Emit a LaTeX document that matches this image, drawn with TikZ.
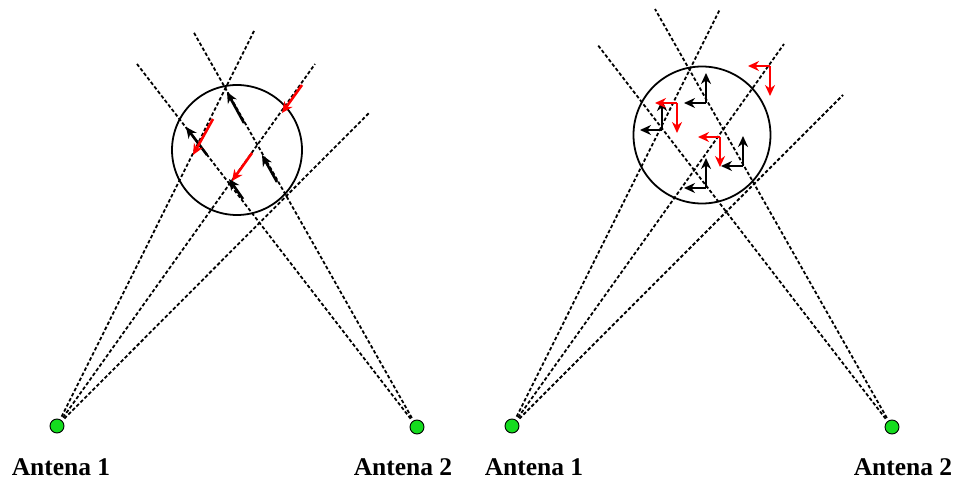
\documentclass[tikz,border=0pt]{standalone}
\usepackage{fontspec}
\setmainfont{Liberation Serif}
\usetikzlibrary{arrows.meta}
\definecolor{antgreen}{RGB}{20,220,30}

\tikzset{
  antenna/.style={circle, draw=black, fill=antgreen, line width=0.9pt, minimum size=14pt, inner sep=0pt},
  ray/.style={black, line width=1.8pt, dash pattern=on 3.5pt off 2.2pt, shorten <=3pt},
  zone/.style={black, line width=1.8pt},
  fwd/.style={black, line width=2.6pt, -{Stealth[length=11pt,width=10pt]}},
  back/.style={red, line width=2.6pt, -{Stealth[length=11pt,width=10pt]}},
  label/.style={font=\fontsize{25.5}{30}\selectfont\bfseries, inner sep=0pt}
}

\begin{document}
\begin{tikzpicture}[x=1pt, y=-1pt]
    \useasboundingbox (0,0) rectangle (956,481);

    % Left: antennas
    \node[antenna] (a1l) at (57,426) {};
    \node[antenna] (a2l) at (417,427) {};
    \node[label] (t1l) at (61,467) {Antena 1};
    \node[label] (t2l) at (403,467) {Antena 2};

    % Left: ray ends
    \coordinate (l1) at (254,31);
    \coordinate (l2) at (370,112);
    \coordinate (l3) at (315,64);
    \coordinate (l4) at (137,64);
    \coordinate (l5) at (193,31);

    \draw[ray] (a1l) -- (l1);
    \draw[ray] (a1l) -- (l2);
    \draw[ray] (a1l) -- (l3);
    \draw[ray] (a2l) -- (l4);
    \draw[ray] (a2l) -- (l5);

    % Left: zone
    \node[zone, circle, minimum size=130pt, inner sep=0pt, draw] (zl) at (237,150) {};

    % Left: forward and backward waves
    \draw[fwd] (207,155) -- (186,127);
    \draw[fwd] (244,123) -- (227,92);
    \draw[fwd] (243,199) -- (229,179);
    \draw[fwd] (277,182) -- (262,155);
    \draw[back] (302,85) -- (282,113);
    \draw[back] (213,119) -- (193,155);
    \draw[back] (252,153) -- (232,181);

    % Right: antennas
    \node[antenna] (a1r) at (512,426) {};
    \node[antenna] (a2r) at (892,427) {};
    \node[label] (t1r) at (534,467) {Antena 1};
    \node[label] (t2r) at (903,467) {Antena 2};

    % Right: ray ends
    \coordinate (r1) at (720,9);
    \coordinate (r2) at (784,44);
    \coordinate (r3) at (843,95);
    \coordinate (r4) at (597,44);
    \coordinate (r5) at (655,9);

    \draw[ray] (a1r) -- (r1);
    \draw[ray] (a1r) -- (r2);
    \draw[ray] (a1r) -- (r3);
    \draw[ray] (a2r) -- (r4);
    \draw[ray] (a2r) -- (r5);

    % Right: zone
    \node[zone, circle, minimum size=137pt, inner sep=0pt, draw] (zr) at (702,135) {};

    % Right: field components
    \foreach \cx/\cy in {706/103, 662/130, 743/166, 706/188} {
        \draw[fwd, line width=2pt] (\cx,\cy) -- (\cx-22,\cy);
        \draw[fwd, line width=2pt] (\cx,\cy) -- (\cx,\cy-30);
    }
    \foreach \cx/\cy in {770/66, 677/103, 720/137} {
        \draw[back, line width=2pt] (\cx,\cy) -- (\cx-22,\cy);
        \draw[back, line width=2pt] (\cx,\cy) -- (\cx,\cy+30);
    }
\end{tikzpicture}
\end{document}
